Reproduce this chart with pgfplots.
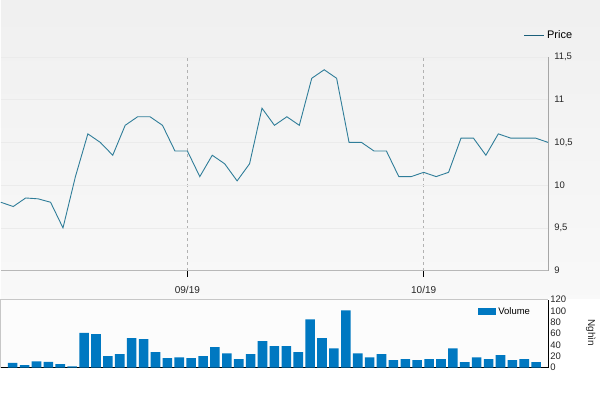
\documentclass[border=0pt]{standalone}
\usepackage{pgfplots}
\pgfplotsset{compat=1.18}
\usepackage{fontspec}
\setmainfont{Liberation Sans}
\definecolor{priceline}{HTML}{2F7D99}
\definecolor{pricelegend}{HTML}{1B5F7A}
\definecolor{volbar}{HTML}{0078C1}
\definecolor{gridc}{HTML}{EBEBEB}
\begin{document}
\begin{tikzpicture}
\fill[white] (0pt,0pt) rectangle (600pt,-393pt);
\fill[top color=black!6, bottom color=black!2.5] (0pt,0pt) rectangle (600pt,-299pt);
\fill[black!1] (0pt,-299pt) rectangle (548pt,-368pt);
\begin{axis}[
  name=price,
  at={(0pt,-271pt)}, anchor=south west,
  scale only axis, width=548pt, height=214pt,
  xmin=0, xmax=44, ymin=9, ymax=11.5,
  axis x line=bottom, axis y line=right,
  x axis line style={draw=black!28, line width=1.6pt, -},
  y axis line style={draw=black!35, line width=0.8pt, -},
  ytick={9,9.5,10,10.5,11,11.5},
  /pgf/number format/use comma,
  /pgf/number format/assume math mode=true,
  yticklabel style={font=\fontsize{9.5}{10}\selectfont, text=black!85, inner sep=1pt, xshift=-1pt},
  ytick style={draw=none},
  ymajorgrids, y grid style={gridc, line width=0.5pt},
  xtick={15,34}, xticklabels={09/19,10/19},
  xticklabel style={font=\fontsize{10}{11}\selectfont, text=black!85, yshift=-6pt},
  xtick style={draw=black, line width=0.8pt},
  tick align=outside, major tick length=6pt,
  xmajorgrids, x grid style={black!30, dashed, line width=0.6pt},
  clip=false,
  legend style={at={(1.048,1.1)}, anchor=east, draw=none, fill=none,
    font=\fontsize{11}{12}\selectfont, inner sep=0pt},
  legend image code/.code={\draw[pricelegend, line width=1.6pt] (0pt,0pt) -- (20pt,0pt);},
]
\addplot[priceline, line width=0.9pt] coordinates {
(0,9.8) (1,9.75) (2,9.85) (3,9.84) (4,9.8) (5,9.5) (6,10.1) (7,10.6) (8,10.5) (9,10.35)
(10,10.7) (11,10.8) (12,10.8) (13,10.7) (14,10.4) (15,10.4) (16,10.1) (17,10.35) (18,10.25) (19,10.05)
(20,10.25) (21,10.9) (22,10.7) (23,10.8) (24,10.7) (25,11.25) (26,11.35) (27,11.25) (28,10.5) (29,10.5)
(30,10.4) (31,10.4) (32,10.1) (33,10.1) (34,10.15) (35,10.1) (36,10.15) (37,10.55) (38,10.55) (39,10.35)
(40,10.6) (41,10.55) (42,10.55) (43,10.55) (44,10.5)
};
\addlegendentry{Price}
\end{axis}
\draw[black!22, line width=0.8pt] (0pt,-368pt) -- (0pt,-299.5pt) -- (548pt,-299.5pt);
\begin{axis}[
  at={(0pt,-368pt)}, anchor=south west,
  scale only axis, width=548pt, height=68pt,
  xmin=-1, xmax=45, ymin=0, ymax=120,
  axis x line=bottom, axis y line=right,
  axis line style={draw=black, line width=0.9pt, -},
  xtick=\empty,
  ytick={0,20,40,60,80,100,120},
  /pgf/number format/assume math mode=true,
  yticklabel style={font=\fontsize{9.5}{10}\selectfont, text=black!85, inner sep=1pt, xshift=-1pt},
  ytick style={draw=none},
  ybar, bar width=9.6pt,
  clip=false,
  ylabel={Nghìn},
  ylabel style={at={(rel axis cs:1.078,0.51)}, anchor=center, rotate=180,
    font=\fontsize{10}{11}\selectfont, text=black!85},
  legend style={at={(0.971,0.824)}, anchor=east, draw=none, fill=none,
    font=\fontsize{9.5}{10}\selectfont, inner sep=0pt},
  legend image code/.code={\fill[volbar] (0pt,-3.6pt) rectangle (18pt,3.6pt);},
]
\addplot[fill=volbar, draw=none] coordinates {
(0,8) (1,4) (2,11) (3,10) (4,6) (5,2) (6,61) (7,59) (8,20) (9,23.5)
(10,52) (11,50) (12,27) (13,16.5) (14,18) (15,16.5) (16,20) (17,36) (18,25) (19,14.7)
(20,23.5) (21,46.5) (22,38) (23,38) (24,27) (25,85) (26,52) (27,34) (28,101) (29,25)
(30,18) (31,23.5) (32,13) (33,14.7) (34,13) (35,14.7) (36,14.7) (37,34) (38,9.6) (39,18)
(40,14.7) (41,21.7) (42,13) (43,14.7) (44,9.6)
};
\addlegendentry{Volume}
\end{axis}
\end{tikzpicture}
\end{document}
